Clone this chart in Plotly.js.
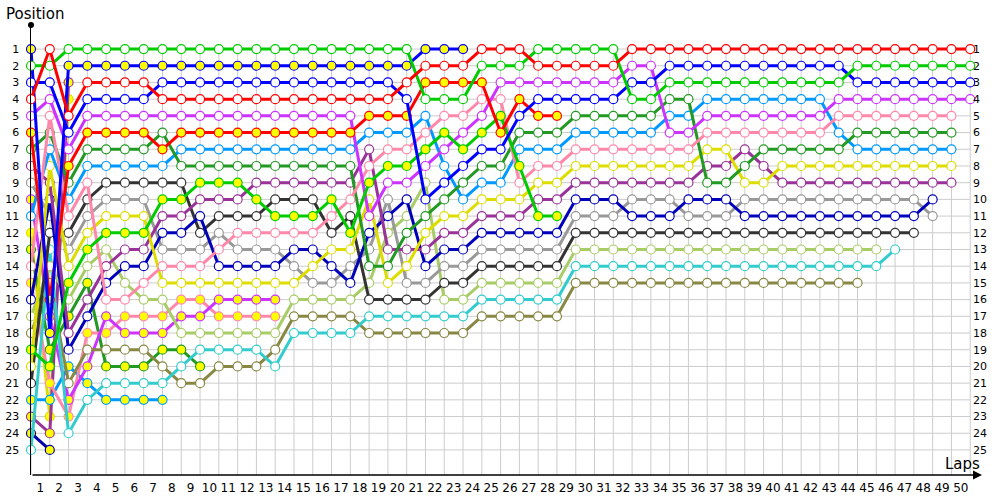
<!DOCTYPE html>
<html><head><meta charset="utf-8">
<script src="https://cdn.plot.ly/plotly-3.0.1.min.js"></script>
<style>body{margin:0;background:#fff}#chart{width:1000px;height:500px}</style>
</head><body><div id="chart"></div>
<script>
const laps = [0,1,2,3,4,5,6,7,8,9,10,11,12,13,14,15,16,17,18,19,20,21,22,23,24,25,26,27,28,29,30,31,32,33,34,35,36,37,38,39,40,41,42,43,44,45,46,47,48,49,50];
const lapLabels = ['1','2','3','4','5','6','7','8','9','10','11','12','13','14','15','16','17','18','19','20','21','22','23','24','25','26','27','28','29','30','31','32','33','34','35','36','37','38','39','40','41','42','43','44','45','46','47','48','49','50'];
const positions = [1,2,3,4,5,6,7,8,9,10,11,12,13,14,15,16,17,18,19,20,21,22,23,24,25];

// position after each lap (index = lap, 0 = start)
const red = [4,1,5,3,3,3,3,4,4,4, 4,4,4,4,4,4,4,4,4,4, 3,2,2,2,1,1,1,2,2,2, 2,2,1,1,1,1,1,1,1,1, 1,1,1,1,1,1,1,1,1,1, 1];
const green = [2,2,1,1,1,1,1,1,1,1, 1,1,1,1,1,1,1,1,1,1, 1,4,4,4,2,2,2,1,1,1, 1,1,4,4,3,3,3,3,3,3, 3,3,3,3,2,2,2,2,2,2, 2];
const blue = [3,3,6,4,4,4,4,3,3,3, 3,3,3,3,3,3,3,3,3,3, 4,10,9,8,7,7,5,4,4,4, 4,4,3,3,2,2,2,2,2,2, 2,2,2,2,3,3,3,3,3,3, 3];
const violet = [5,4,7,5,5,5,5,5,5,5, 5,5,5,5,5,5,5,5,11,9, 9,8,7,6,5,3,3,3,3,3, 3,3,2,2,6,6,5,5,5,5, 5,5,5,4,4,4,4,4,4,4, 4];
const pink = [14,5,11,9,16,16,15,14,14,14, 13,12,12,12,12,12,11,10,8,7, 7,6,5,5,4,4,9,8,8,7, 7,7,7,7,7,7,6,6,6,6, 6,6,6,5,5,5,5,5,5,5];
const darkGreen = [7,6,9,7,7,7,7,6,8,8, 8,8,8,8,8,8,8,8,14,14, 12,11,10,9,8,8,6,6,6,5, 5,5,5,5,4,4,9,9,8,7, 7,7,7,7,6,6,6,6,6,6];
const lightBlue = [11,7,10,8,8,8,8,8,7,7, 7,7,7,7,7,7,7,7,6,6, 6,5,8,10,9,9,7,7,7,6, 6,6,6,6,5,5,4,4,4,4, 4,4,4,6,7,7,7,7,7,7];
const yellow = [20,8,14,12,11,11,11,15,15,15, 15,15,15,15,15,14,13,13,10,15, 14,12,11,11,10,10,10,9,9,8, 8,8,8,8,8,8,7,7,9,9, 8,8,8,8,8,8,8,8,8,8];
const purple = [8,9,18,16,14,13,13,11,11,10, 10,10,9,9,9,9,9,9,7,13, 13,13,12,12,11,11,11,10,10,9, 9,9,9,9,9,9,8,8,7,8, 9,9,9,9,9,9,9,9,9,9];
const darkBlue = [16,10,19,17,15,14,14,12,12,11, 14,14,14,14,13,13,14,15,12,11, 10,14,13,13,12,12,12,12,12,10, 10,10,11,11,11,10,10,10,11,11, 11,11,11,11,11,11,11,11,10];
const gray = [9,11,13,11,10,10,10,13,13,13, 12,13,13,13,14,15,15,14,13,10, 15,15,14,14,13,13,13,13,13,11, 11,11,10,10,10,11,11,11,10,10, 10,10,10,10,10,10,10,10,11];
const black = [21,12,12,10,9,9,9,9,9,12, 11,11,11,10,10,10,12,11,16,16, 16,16,15,15,14,14,14,14,14,12, 12,12,12,12,12,12,12,12,12,12, 12,12,12,12,12,12,12,12];
const lightGreen = [17,14,16,14,13,15,16,16,18,18, 18,18,18,18,16,16,16,16,15,12, 11,9,16,16,15,15,15,15,15,13, 13,13,13,13,13,13,13,13,13,13, 13,13,13,13,13,13];
const cyan = [25,13,24,22,21,21,21,21,20,19, 19,19,19,20,18,18,18,18,17,17, 17,17,17,17,16,16,16,16,16,14, 14,14,14,14,14,14,14,14,14,14, 14,14,14,14,14,14,13];
const olive = [18,15,21,19,19,19,19,20,21,21, 20,20,20,19,17,17,17,17,18,18, 18,18,18,18,17,17,17,17,17,15, 15,15,15,15,15,15,15,15,15,15, 15,15,15,15,15];
const blueY = [1,18,2,2,2,2,2,2,2,2, 2,2,2,2,2,2,2,2,2,2, 2,1,1,1];
const redY = [6,16,8,6,6,6,6,7,6,6, 6,6,6,6,6,6,6,6,5,5, 5,3,3,3,3,6,4,5,5];
const greenY = [19,20,15,13,12,12,12,10,10,9, 9,9,10,11,11,11,10,12,9,8, 8,7,6,7,6,5,8,11,11];
const violetY = [10,17,22,20,17,18,18,18,17,17,16,16,16,16];
const pinkY = [15,21,23,18,18,17,17,17,16,16,17,17,17,17];
const darkGreenY = [13,19,17,15,20,20,20,19,19,20];
const lightBlueY = [22,22,20,21,22,22,22,22];
const purpleY = [23,24,3];
const yellowY = [12,23,4];
const darkBlueY = [24,25];

const W = '#ffffff', Y = '#ffff00';
const drivers = [
  [darkBlueY,'#0000aa',Y],[yellowY,'#dddd00',Y],[purpleY,'#993399',Y],[lightBlueY,'#0099ff',Y],
  [darkGreenY,'#229922',Y],[pinkY,'#ff88aa',Y],[violetY,'#cc33ff',Y],
  [olive,'#888844',W],[cyan,'#33cccc',W],[lightGreen,'#a8cc66',W],[black,'#333333',W],[gray,'#999999',W],
  [darkBlue,'#0000bb',W],[purple,'#993399',W],[yellow,'#dddd00',W],[lightBlue,'#0099ff',W],
  [darkGreen,'#229922',W],[pink,'#ff88aa',W],[violet,'#cc33ff',W],
  [greenY,'#00cc00',Y],[redY,'#ff0000',Y],[blueY,'#0000ff',Y],
  [blue,'#0000ff',W],[green,'#00cc00',W],[red,'#ff0000',W]
];

const traces = drivers.map(([pos,col,fill]) => ({
  x: laps.slice(0, pos.length), y: pos, type:'scatter', mode:'lines+markers',
  line:{color:col,width:3}, marker:{size:9,color:fill,line:{color:col,width:1.2}},
  hoverinfo:'skip', showlegend:false, cliponaxis:false
}));

const shapes = [];
laps.forEach(l => shapes.push({type:'line',xref:'x',yref:'y',x0:l,x1:l,y0:0.75,y1:26.5,line:{color:'#cccccc',width:1},layer:'below'}));
positions.forEach(p => shapes.push({type:'line',xref:'x',yref:'y',x0:0,x1:laps[laps.length-1],y0:p,y1:p,line:{color:'#cccccc',width:1},layer:'below'}));

const layout = {
  width:1000, height:500, margin:{l:31,r:11,t:25,b:25},
  paper_bgcolor:'#fff', plot_bgcolor:'#fff',
  font:{family:'DejaVu Sans',size:11,color:'#000'},
  xaxis:{range:[0,51],tickvals:laps.slice(1).map(l=>l-0.5),ticktext:lapLabels,showgrid:false,zeroline:false,
         showline:false,ticks:'',ticklabelstandoff:4,tickfont:{size:12,family:'DejaVu Sans'},fixedrange:true},
  yaxis:{range:[26.5,-0.44],tickvals:positions,ticktext:positions.map(String),showgrid:false,zeroline:false,
         showline:true,linecolor:'#000',linewidth:1.5,ticks:'',ticklabelstandoff:8,tickfont:{size:11},fixedrange:true},
  yaxis2:{range:[26.5,-0.44],overlaying:'y',side:'right',anchor:'free',position:(972-31)/958,
          tickvals:positions,ticktext:positions.map(String),showgrid:false,zeroline:false,showline:false,ticks:'',tickfont:{size:11},fixedrange:true},
  shapes:shapes,
  annotations:[
    {xref:'paper',yref:'paper',x:(982-31)/958,y:0,ax:-951,ay:0,text:'',showarrow:true,arrowhead:2,arrowsize:1.2,arrowwidth:1.5,arrowcolor:'#000'},
    {xref:'paper',yref:'paper',x:0,y:1,ax:0,ay:4,text:'',showarrow:true,arrowhead:6,arrowsize:1,arrowwidth:1.5,arrowcolor:'#000'},
    {xref:'paper',yref:'paper',x:-27/958,y:1.025,text:'Position',showarrow:false,xanchor:'left',yanchor:'middle',font:{family:'DejaVu Sans',size:15,color:'#000'}},
    {xref:'paper',yref:'paper',x:(943-31)/958,y:(475-464)/450,text:'Laps',showarrow:false,xanchor:'left',yanchor:'middle',font:{family:'DejaVu Sans',size:15,color:'#000'}}
  ]
};
traces.push({x:[],y:[],yaxis:'y2',type:'scatter',showlegend:false,hoverinfo:'skip'});
Plotly.newPlot('chart', traces, layout, {displayModeBar:false, staticPlot:true});
</script></body></html>
